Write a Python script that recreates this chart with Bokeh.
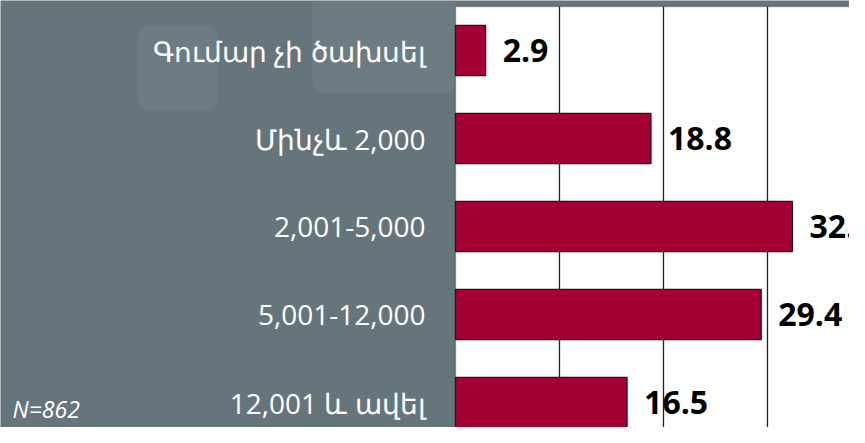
from bokeh.plotting import figure
from bokeh.models import Range1d, Label, BoxAnnotation, ColumnDataSource
from bokeh.core.properties import value
from bokeh.embed import file_html
from bokeh.resources import INLINE

categories = ["Գումար չի ծախսել", "Մինչև 2,000", "2,001-5,000", "5,001-12,000", "12,001 և ավել"]
values = [2.9, 18.8, 32.4, 29.4, 16.5]
grid_ticks = [10, 20, 30]
sample_note = "N=862"

positions = list(range(len(categories)))
labels = [f"{v:.1f}" for v in values]
src = ColumnDataSource(dict(y=positions, v=values, lab=labels, cat=categories))

W, H = 849, 427
PX, PY = 10.4, 88.0      # pixels per data unit (x) and per category step (y)
X0, Y0 = 455, 50         # pixel position of x=0 and of the first category


def xd(px):
    return (px - X0) / PX


def yd(py):
    return (py - Y0) / PY


BG = "#66757C"
BAR = "#A50034"

p = figure(width=W, height=H, output_backend="svg", toolbar_location=None,
           x_range=Range1d(xd(0), xd(W)), y_range=Range1d(yd(H), yd(0)),
           x_axis_location=None, y_axis_location=None,
           min_border_left=0, min_border_right=0, min_border_top=0, min_border_bottom=0)
p.background_fill_color = BG
p.border_fill_color = BG
p.outline_line_color = None
p.grid.visible = False

# decorative translucent rounded squares of the slide background
for l, r, t, b in [(137, 217, 25, 110), (312, 455, -20, 93)]:
    p.add_layout(BoxAnnotation(left=xd(l), right=xd(r), top=yd(t), bottom=yd(b),
                               fill_color="#8797a0", fill_alpha=0.22, line_color=None,
                               border_radius=14, level="underlay"))

# white plotting area with its top and left border
p.add_layout(BoxAnnotation(left=0, right=xd(W + 50), top=-0.5, bottom=yd(H + 50),
                           fill_color="white", fill_alpha=1.0,
                           line_color="#111111", line_width=1.5, level="underlay"))

# vertical grid lines
p.segment(x0=grid_ticks, x1=grid_ticks, y0=-0.5, y1=yd(H + 50),
          line_color="#222222", line_width=1.3)

p.hbar(y="y", right="v", left=0, height=0.57, source=src,
       fill_color=BAR, line_color="#1a1a1a", line_width=1.2)

# value labels
p.text(x="v", y="y", text="lab", source=src, x_offset=17,
       text_baseline="middle", text_align="left",
       text_font=value("Open Sans"), text_font_style="bold",
       text_font_size="32px", text_color="black")

# category labels
p.text(x=0, y="y", text="cat", source=src, x_offset=-30,
       text_baseline="middle", text_align="right",
       text_font=value("Open Sans"), text_font_size="28px", text_color="white")

p.add_layout(Label(x=12, y=19, x_units="screen", y_units="screen", text=sample_note,
                   text_color="white", text_font="Open Sans", text_font_style="italic",
                   text_font_size="23px", text_baseline="middle"))

open("out.html", "w").write(file_html(p, INLINE))
